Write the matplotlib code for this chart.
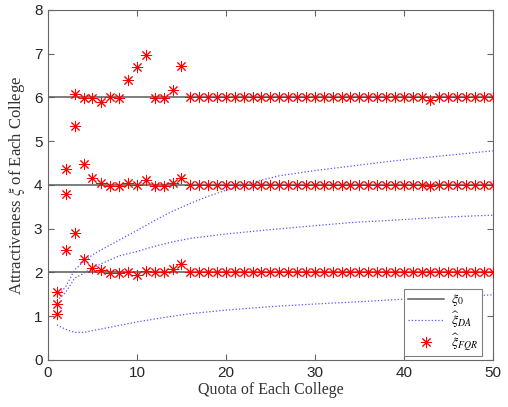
import numpy as np
import matplotlib
matplotlib.use("Agg")
import matplotlib.pyplot as plt

plt.rcParams['mathtext.fontset'] = 'stix'

# quota of each college
quota = np.arange(1, 51)

# true attractiveness levels
xi_true = [2, 4, 6]

# FQR estimates for the three colleges, quota 1..16 (then flat at the true value)
fqr_head = [
    [1.06, 2.52, 2.91, 2.31, 2.10, 2.06, 1.98, 1.98, 2.00, 1.95, 2.04, 2.00, 2.00, 2.09, 2.19, 2.00],
    [1.28, 3.80, 5.35, 4.48, 4.16, 4.04, 3.98, 3.98, 4.04, 4.01, 4.12, 3.98, 3.98, 4.04, 4.16, 4.00],
    [1.55, 4.37, 6.07, 5.99, 5.98, 5.90, 6.01, 5.98, 6.41, 6.69, 6.98, 5.98, 5.98, 6.18, 6.73, 6.00],
]

# DA estimates
da_low_x = [1, 2, 3, 4, 5, 6, 8, 10, 13, 16, 20, 25, 30, 34, 40, 45, 50]
da_low_y = [0.80, 0.70, 0.63, 0.63, 0.67, 0.71, 0.79, 0.87, 0.97, 1.06, 1.14, 1.22, 1.28, 1.32, 1.39, 1.44, 1.49]
da_mid_x = [1, 2, 3, 4, 5, 6, 8, 10, 12, 14, 16, 20, 25, 30, 34, 40, 45, 50]
da_mid_y = [1.35, 1.55, 1.87, 1.98, 2.10, 2.20, 2.38, 2.48, 2.60, 2.70, 2.78, 2.88, 2.98, 3.07, 3.14, 3.21, 3.27, 3.31]
da_high_x = [1, 2, 3, 4, 5, 6, 8, 10, 12, 14, 16, 18, 20, 23, 26, 30, 34, 38, 42, 46, 50]
da_high_y = [1.45, 1.68, 2.06, 2.25, 2.40, 2.52, 2.74, 2.96, 3.19, 3.40, 3.58, 3.74, 3.88, 4.06, 4.21, 4.33, 4.43, 4.53, 4.62, 4.70, 4.78]

fqr = []
for level, head in zip(xi_true, fqr_head):
    vals = head + [level] * (len(quota) - len(head))
    fqr.append(vals)
# a couple of small deviations further out
fqr[1][42] = 3.97
fqr[2][42] = 5.95

fig = plt.figure(figsize=(5.08, 4.07), dpi=100)
ax = fig.add_axes([0.0945, 0.1155, 0.8755, 0.86])

for i, level in enumerate(xi_true):
    ax.plot([0, 50], [level, level], '-', color='0.35', lw=1.1,
            label=r'$\xi_0$' if i == 0 else None, zorder=2)

for i, (dx, dy) in enumerate([(da_low_x, da_low_y), (da_mid_x, da_mid_y), (da_high_x, da_high_y)]):
    ax.plot(dx, dy, ':', color='#5555ff', lw=0.9,
            label=r'$\widehat{\xi}_{DA}$' if i == 0 else None, zorder=3)

for i, vals in enumerate(fqr):
    ax.plot(quota, vals, linestyle='none', marker=(8, 2, 0), markersize=8,
            markeredgewidth=0.7, color='red',
            label=r'$\widehat{\xi}_{FQR}$' if i == 0 else None, zorder=4)

ax.set_xlim(0, 50)
ax.set_ylim(0, 8)
ax.set_xticks(range(0, 51, 10))
ax.set_yticks(range(0, 9))
ax.tick_params(direction='in', top=True, right=True, length=4, width=0.8,
               color='0.4', labelsize=11, pad=4)
for lab in ax.get_xticklabels() + ax.get_yticklabels():
    lab.set_family('Liberation Sans')
    lab.set_color('0.15')
for sp in ax.spines.values():
    sp.set_color('0.4')
    sp.set_linewidth(0.8)

ax.set_xlabel('Quota of Each College', family='Liberation Serif', fontsize=11.5,
              color='0.2', labelpad=2)
ax.set_ylabel(r'Attractiveness $\xi$ of Each College', family='Liberation Serif',
              fontsize=12, color='0.2', labelpad=5)

leg = ax.legend(loc='lower right', bbox_to_anchor=(0.975, 0.012), fancybox=False,
                edgecolor='0.5', framealpha=1, fontsize=10, handlelength=2.6,
                borderaxespad=0, labelspacing=0.1, borderpad=0.25, handletextpad=0.5)
leg.get_frame().set_linewidth(0.8)

fig.savefig('out.png', dpi=100)
